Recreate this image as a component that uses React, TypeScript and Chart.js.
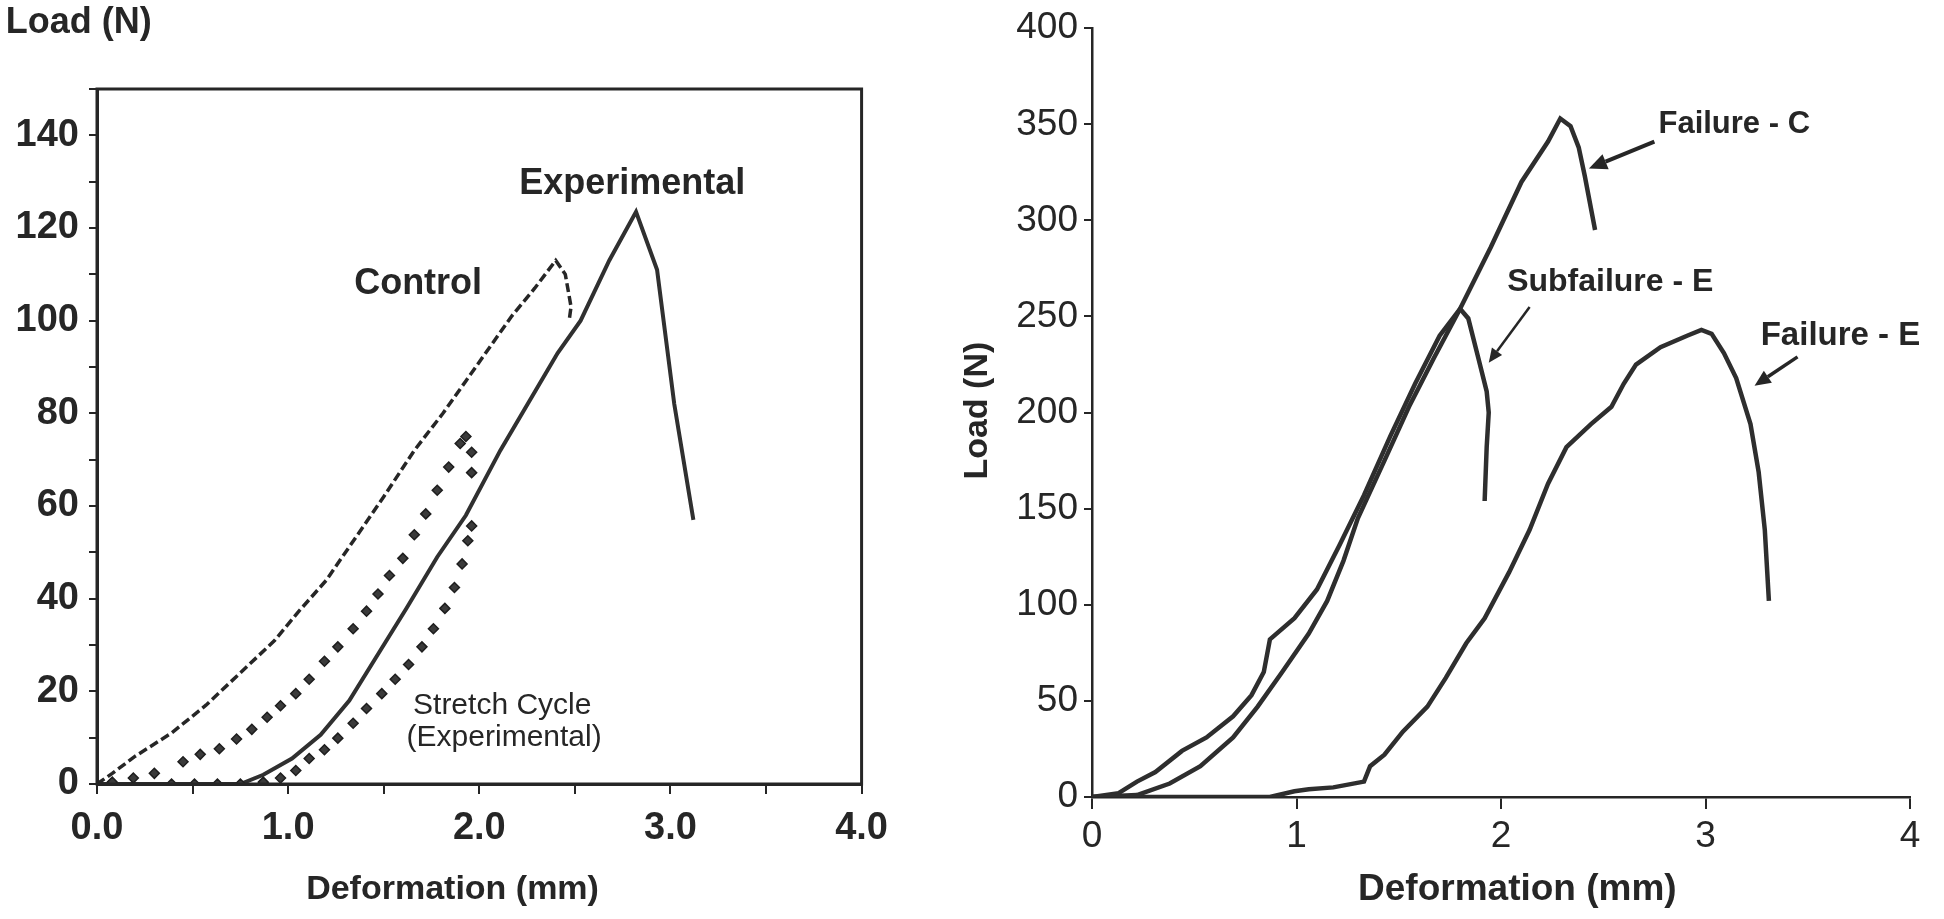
import React, { useEffect, useRef } from "react";
import { Chart, registerables } from "chart.js";
Chart.register(...registerables);

// ---------- Left panel data ----------
const controlX = [0, 0.08, 0.2, 0.39, 0.57, 0.75, 0.93, 1.05, 1.2, 1.35, 1.5, 1.66, 1.81, 1.93, 2.05, 2.17, 2.29, 2.4, 2.45, 2.48, 2.47];
const controlY = [0, 2.3, 6, 11, 17, 24, 31, 37, 44, 53, 62, 72, 80, 87, 94, 101, 107, 113, 110, 103, 100];

const experimentalX = [0, 0.4, 0.75, 0.87, 1.02, 1.17, 1.32, 1.47, 1.62, 1.78, 1.93, 2.11, 2.26, 2.41, 2.53, 2.68, 2.82, 2.93, 3.02, 3.12];
const experimentalY = [0, 0, 0, 2, 5.5, 10.6, 18, 28, 38, 49, 58, 72, 82.5, 93, 100, 113, 123.5, 111, 82, 57];

const stretchX = [0.08, 0.19, 0.3, 0.45, 0.54, 0.64, 0.73, 0.81, 0.89, 0.96, 1.04, 1.11, 1.19, 1.26, 1.34, 1.41, 1.47, 1.53, 1.6, 1.66, 1.72, 1.78, 1.84, 1.9, 1.93, 1.96, 1.96,
  1.96, 1.94, 1.91, 1.87, 1.82, 1.76, 1.7, 1.63, 1.56, 1.49, 1.41, 1.34, 1.26, 1.19, 1.11, 1.04, 0.96, 0.87, 0.75, 0.63, 0.51, 0.39];
const stretchY = [0.4, 1.3, 2.3, 4.8, 6.4, 7.6, 9.7, 11.8, 14.4, 16.9, 19.5, 22.6, 26.5, 29.6, 33.5, 37.3, 41, 45, 48.7, 53.8, 58.3, 63.4, 68.4, 73.5, 75, 71.6, 67.2,
  55.7, 52.5, 47.5, 42.4, 37.9, 33.5, 29.6, 25.8, 22.6, 19.5, 16.3, 13.1, 9.9, 7.4, 5.5, 2.9, 1.3, 0.4, 0, 0, 0, 0];

const leftXTicks = [0, 1, 2, 3, 4];
const leftYTicks = [0, 20, 40, 60, 80, 100, 120, 140];

// ---------- Right panel data ----------
const failureCX = [0, 0.22, 0.38, 0.53, 0.69, 0.81, 0.93, 1.06, 1.15, 1.23, 1.3, 1.43, 1.55, 1.67, 1.8, 1.95, 2.1, 2.23, 2.29, 2.34, 2.38, 2.41, 2.46];
const failureCY = [0, 1, 7, 16, 31, 47, 65, 85, 102, 123, 145, 175, 203, 228, 254, 286, 320, 341, 353, 349, 338, 323, 295];

const subfailureEX = [0, 0.13, 0.22, 0.31, 0.44, 0.56, 0.69, 0.78, 0.84, 0.87, 0.99, 1.1, 1.21, 1.33, 1.46, 1.58, 1.7, 1.8, 1.84, 1.89, 1.93, 1.94, 1.93, 1.92];
const subfailureEY = [0, 2, 8, 13, 24, 31, 42, 53, 65, 82, 93, 108, 131, 157, 188, 215, 240, 254, 249, 228, 211, 200, 182, 154];

const failureEX = [0, 0.87, 0.99, 1.06, 1.18, 1.33, 1.36, 1.43, 1.52, 1.64, 1.73, 1.83, 1.92, 2.04, 2.14, 2.23, 2.32, 2.44, 2.54, 2.6, 2.66, 2.78, 2.91, 2.98, 3.03, 3.09, 3.15, 3.22, 3.26, 3.29, 3.31];
const failureEY = [0, 0, 3, 4, 5, 8, 16, 22, 34, 47, 62, 80, 93, 117, 139, 163, 182, 194, 203, 215, 225, 234, 240, 243, 241, 231, 218, 194, 169, 139, 102];

const rightXTicks = [0, 1, 2, 3, 4];
const rightYTicks = [0, 50, 100, 150, 200, 250, 300, 350, 400];

const INK = "#262626";
const FONT = "'Liberation Sans', Arial, Helvetica, sans-serif";

function pts(xs: number[], ys: number[]) {
  return xs.map((x, i) => ({ x, y: ys[i] }));
}

type Note = { text: string; x: number; y: number; font: string; align?: CanvasTextAlign; rotate?: boolean };
type Arrow = { x1: number; y1: number; x2: number; y2: number; width: number; head: number };

function notesPlugin(notes: Note[], arrows: Arrow[], frame: boolean) {
  return {
    id: "notes",
    afterDatasetsDraw(chart: any) {
      const ctx: CanvasRenderingContext2D = chart.ctx;
      const xs = chart.scales.x;
      const ys = chart.scales.y;
      ctx.save();
      if (frame) {
        const a = chart.chartArea;
        ctx.strokeStyle = INK;
        ctx.lineWidth = 3;
        ctx.strokeRect(a.left, a.top, a.right - a.left, a.bottom - a.top);
      }
      ctx.fillStyle = INK;
      ctx.textBaseline = "middle";
      for (const n of notes) {
        const px = xs.getPixelForValue(n.x);
        const py = ys.getPixelForValue(n.y);
        ctx.font = n.font;
        ctx.textAlign = n.align ?? "center";
        if (n.rotate) {
          ctx.save();
          ctx.translate(px, py);
          ctx.rotate(-Math.PI / 2);
          ctx.fillText(n.text, 0, 0);
          ctx.restore();
        } else {
          ctx.fillText(n.text, px, py);
        }
      }
      for (const a of arrows) {
        const x1 = xs.getPixelForValue(a.x1), y1 = ys.getPixelForValue(a.y1);
        const x2 = xs.getPixelForValue(a.x2), y2 = ys.getPixelForValue(a.y2);
        const ang = Math.atan2(y2 - y1, x2 - x1);
        const bx = x2 - Math.cos(ang) * a.head, by = y2 - Math.sin(ang) * a.head;
        ctx.strokeStyle = INK;
        ctx.lineWidth = a.width;
        ctx.beginPath();
        ctx.moveTo(x1, y1);
        ctx.lineTo(bx, by);
        ctx.stroke();
        const hw = a.head * 0.45;
        ctx.beginPath();
        ctx.moveTo(x2, y2);
        ctx.lineTo(bx + Math.sin(ang) * hw, by - Math.cos(ang) * hw);
        ctx.lineTo(bx - Math.sin(ang) * hw, by + Math.cos(ang) * hw);
        ctx.closePath();
        ctx.fill();
      }
      ctx.restore();
    },
  };
}

function LeftChart() {
  const ref = useRef<HTMLCanvasElement>(null);
  useEffect(() => {
    const tickFont = { family: FONT, size: 38, weight: "bold" as const };
    const chart = new Chart(ref.current!, {
      type: "scatter",
      data: {
        datasets: [
          { data: pts(controlX, controlY), showLine: true, borderColor: INK, borderWidth: 3.5, borderDash: [9, 4], pointRadius: 0, tension: 0 },
          { data: pts(stretchX, stretchY), showLine: false, pointStyle: "rectRot", pointRadius: 5, backgroundColor: "#3a3a3a", borderColor: "#1e1e1e", borderWidth: 1.5 },
          { data: pts(experimentalX, experimentalY), showLine: true, borderColor: "#303030", borderWidth: 4, pointRadius: 0, tension: 0 },
        ],
      },
      options: {
        responsive: false,
        animation: false,
        layout: { padding: { left: 0, top: 89, right: 33, bottom: 0 } },
        plugins: { legend: { display: false }, tooltip: { enabled: false } },
        scales: {
          x: {
            type: "linear", min: 0, max: 4,
            afterFit: (s: any) => { s.height = 135; },
            afterBuildTicks: (s: any) => { s.ticks = [0, 0.5, 1, 1.5, 2, 2.5, 3, 3.5, 4].map((v) => ({ value: v })); },
            ticks: {
              autoSkip: false, maxRotation: 0, padding: 12, color: INK, font: tickFont,
              callback: (v: any) => (leftXTicks.includes(Number(v)) ? Number(v).toFixed(1) : ""),
            },
            grid: { drawOnChartArea: false, tickLength: 10, color: INK, lineWidth: 2 },
            border: { color: INK, width: 3 },
          },
          y: {
            type: "linear", min: 0, max: 150,
            afterFit: (s: any) => { s.width = 97; },
            afterBuildTicks: (s: any) => { const t = []; for (let v = 0; v <= 150; v += 10) t.push({ value: v }); s.ticks = t; },
            ticks: {
              autoSkip: false, padding: 10, color: INK, font: tickFont,
              callback: (v: any) => (leftYTicks.includes(Number(v)) ? String(v) : ""),
            },
            grid: { drawOnChartArea: false, tickLength: 8, color: INK, lineWidth: 2 },
            border: { color: INK, width: 3 },
          },
        },
      },
      plugins: [
        notesPlugin(
          [
            { text: "Load (N)", x: -0.095, y: 164.3, font: `bold 36px ${FONT}` },
            { text: "Deformation (mm)", x: 1.86, y: -22.8, font: `bold 34px ${FONT}` },
            { text: "Experimental", x: 2.8, y: 129.5, font: `bold 36px ${FONT}` },
            { text: "Control", x: 1.68, y: 108, font: `bold 36px ${FONT}` },
            { text: "Stretch Cycle", x: 2.12, y: 16.9, font: `30px ${FONT}` },
            { text: "(Experimental)", x: 2.13, y: 9.9, font: `30px ${FONT}` },
          ],
          [],
          true
        ),
      ],
    });
    return () => chart.destroy();
  }, []);
  return <canvas ref={ref} width={900} height={919} style={{ position: "absolute", left: 0, top: 0, width: 900, height: 919 }} />;
}

function RightChart() {
  const ref = useRef<HTMLCanvasElement>(null);
  useEffect(() => {
    const tickFont = { family: FONT, size: 37, weight: "normal" as const };
    const lineStyle = { showLine: true, borderColor: "#2e2e2e", borderWidth: 4.5, pointRadius: 0, tension: 0 };
    const chart = new Chart(ref.current!, {
      type: "scatter",
      data: {
        datasets: [
          { data: pts(failureCX, failureCY), ...lineStyle },
          { data: pts(subfailureEX, subfailureEY), ...lineStyle },
          { data: pts(failureEX, failureEY), ...lineStyle },
        ],
      },
      options: {
        responsive: false,
        animation: false,
        layout: { padding: { left: 0, top: 28, right: 34, bottom: 0 } },
        plugins: { legend: { display: false }, tooltip: { enabled: false } },
        scales: {
          x: {
            type: "linear", min: 0, max: 4,
            afterFit: (s: any) => { s.height = 122; },
            afterBuildTicks: (s: any) => { s.ticks = rightXTicks.map((v) => ({ value: v })); },
            ticks: { autoSkip: false, maxRotation: 0, padding: 6, color: INK, font: tickFont, callback: (v: any) => String(v) },
            grid: { drawOnChartArea: false, tickLength: 12, color: INK, lineWidth: 2 },
            border: { color: INK, width: 2.5 },
          },
          y: {
            type: "linear", min: 0, max: 400,
            afterFit: (s: any) => { s.width = 192; },
            afterBuildTicks: (s: any) => { s.ticks = rightYTicks.map((v) => ({ value: v })); },
            ticks: { autoSkip: false, padding: 6, color: INK, font: tickFont, callback: (v: any) => String(v) },
            grid: { drawOnChartArea: false, tickLength: 8, color: INK, lineWidth: 2 },
            border: { color: INK, width: 2.5 },
          },
        },
      },
      plugins: [
        notesPlugin(
          [
            { text: "Load (N)", x: -0.56, y: 201, font: `bold 34px ${FONT}`, rotate: true },
            { text: "Deformation (mm)", x: 2.08, y: -48.5, font: `bold 37px ${FONT}` },
            { text: "Failure - C", x: 2.77, y: 350, font: `bold 31px ${FONT}`, align: "left" },
            { text: "Subfailure - E", x: 2.03, y: 268, font: `bold 32px ${FONT}`, align: "left" },
            { text: "Failure - E", x: 3.27, y: 240, font: `bold 33px ${FONT}`, align: "left" },
          ],
          [
            { x1: 2.75, y1: 341, x2: 2.43, y2: 327, width: 4, head: 18 },
            { x1: 2.14, y1: 255, x2: 1.94, y2: 226, width: 2.5, head: 14 },
            { x1: 3.45, y1: 229, x2: 3.24, y2: 214, width: 3.5, head: 16 },
          ],
          false
        ),
      ],
    });
    return () => chart.destroy();
  }, []);
  return <canvas ref={ref} width={1044} height={919} style={{ position: "absolute", left: 900, top: 0, width: 1044, height: 919 }} />;
}

export default function App() {
  return (
    <div style={{ position: "fixed", left: 0, top: 0, width: 1944, height: 919, background: "#fff", overflow: "hidden" }}>
      <LeftChart />
      <RightChart />
    </div>
  );
}
